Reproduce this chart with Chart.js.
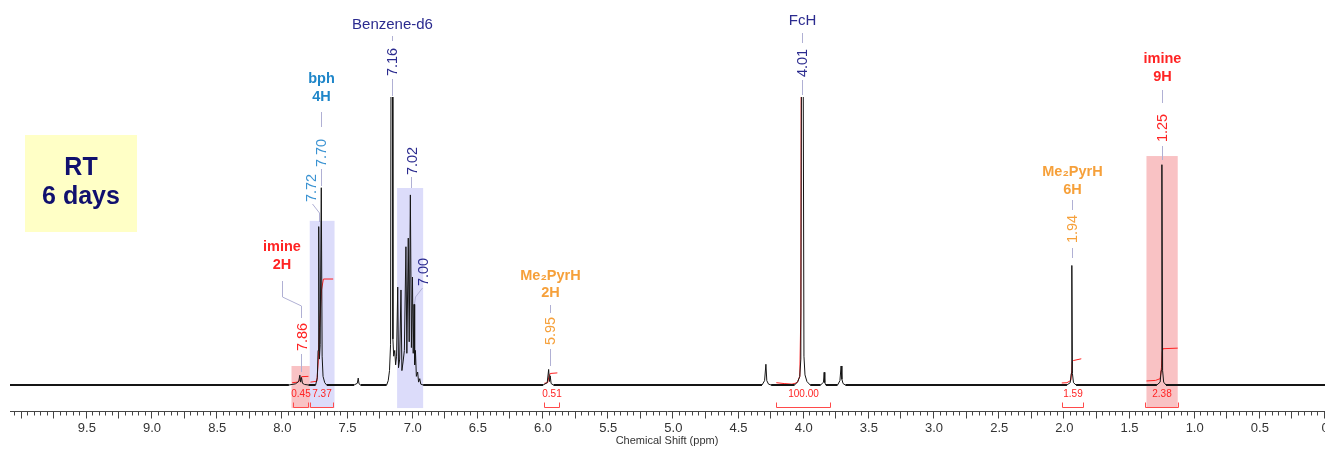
<!DOCTYPE html>
<html>
<head>
<meta charset="utf-8">
<script src="https://cdn.jsdelivr.net/npm/chart.js@4"></script>
<style>
html, body { margin: 0; padding: 0; background: #fff; }
#wrap { width: 1325px; height: 452px; position: relative; }
</style>
</head>
<body>
<div id="wrap"><canvas id="nmr"></canvas></div>
<script>
// 1H spectrum: [ppm, intensity], baseline = 0, 100 = top of the plot
const spectrum = [
    [10.09, 0], [7.95, 0],
    [7.90, 0.4], [7.875, 1.2], [7.866, 3.4], [7.860, 1.0], [7.853, 2.6], [7.846, 0.6], [7.83, 0.2], [7.80, 0],
    [7.745, 0], [7.732, 2.5], [7.726, 12], [7.721, 55], [7.716, 9], [7.710, 14], [7.7015, 68.5], [7.695, 10],
    [7.688, 3], [7.675, 0.8], [7.66, 0],
    [7.45, 0], [7.425, 0.6], [7.418, 2.4], [7.412, 0.4], [7.40, 0],
    [7.20, 0], [7.188, 1.5], [7.178, 5], [7.170, 14], [7.1655, 140], [7.1565, 140], [7.152, 16], [7.146, 10],
    [7.138, 12], [7.131, 7], [7.124, 10], [7.115, 34], [7.109, 6], [7.100, 9], [7.090, 33], [7.083, 5],
    [7.074, 8], [7.064, 12], [7.052, 48], [7.045, 11], [7.034, 51], [7.027, 15], [7.018, 66], [7.010, 13],
    [7.002, 37.5], [6.996, 11], [6.990, 28], [6.985, 7], [6.979, 12], [6.972, 3], [6.962, 4.5], [6.955, 1],
    [6.946, 2.2], [6.938, 0.3], [6.92, 0],
    [6.00, 0], [5.968, 0.8], [5.957, 5.4], [5.951, 1.2], [5.945, 3.2], [5.938, 0.5], [5.92, 0],
    [4.32, 0], [4.300, 1.5], [4.290, 7.2], [4.283, 1.5], [4.27, 0.3], [4.25, 0],
    [4.07, 0], [4.045, 1.2], [4.030, 3], [4.022, 9], [4.0155, 140], [4.0055, 140], [3.998, 10], [3.990, 3.5],
    [3.975, 1.2], [3.95, 0],
    [3.87, 0], [3.848, 1], [3.843, 4.4], [3.838, 0.8], [3.83, 0],
    [3.74, 0], [3.722, 1.5], [3.713, 6.6], [3.707, 2], [3.698, 0.5], [3.68, 0],
    [1.98, 0], [1.955, 0.8], [1.947, 4], [1.9425, 41.5], [1.938, 4], [1.930, 0.8], [1.91, 0],
    [1.29, 0], [1.265, 1], [1.257, 5], [1.2515, 76.5], [1.246, 5], [1.238, 1], [1.22, 0],
    [0, 0]
];

// integral curves (red)
const int786 = [[7.925, 0.8], [7.88, 1.0], [7.868, 1.6], [7.862, 2.4], [7.85, 2.9], [7.80, 3.0]];
const int770 = [[7.785, 1.0], [7.735, 1.3], [7.725, 8], [7.715, 20], [7.70, 33], [7.685, 36.8], [7.61, 36.8]];
const int595 = [[5.99, 0.6], [5.965, 0.8], [5.955, 2.8], [5.945, 4.0], [5.89, 4.2]];
const int401 = [[4.21, 0.8], [4.15, 0.5], [4.09, 0.3], [4.05, 0.8], [4.03, 3], [4.022, 25], [4.018, 140]];
const int194 = [[2.02, 0.7], [1.98, 0.8], [1.95, 1.6], [1.943, 5], [1.939, 8.2], [1.93, 8.5], [1.87, 9.1]];
const int125 = [[1.37, 1.4], [1.30, 1.6], [1.265, 2.2], [1.255, 6], [1.249, 11.5], [1.243, 12.6], [1.13, 12.8]];

// integration ranges under the baseline
const intStart = [7.92, 7.785, 5.99, 4.21, 2.02, 1.38];
const intEnd = [7.80, 7.61, 5.88, 3.80, 1.86, 1.13];
const intValues = ['0.45', '7.37', '0.51', '100.00', '1.59', '2.38'];

// highlighted regions
const boxFrom = [7.93, 7.79, 7.12, 1.37];
const boxTo = [7.79, 7.60, 6.92, 1.13];
const boxTop = [6.6, 57, 68.4, 79.5];
const boxGroup = ['imine', 'bph', 'solvent', 'imine'];

// peak picks and assignments
const peakShifts = ['7.86', '7.72', '7.70', '7.16', '7.02', '7.00', '5.95', '4.01', '1.94', '1.25'];
const groupNames = ['imine', 'bph', 'Benzene-d6', 'Me₂PyrH', 'FcH', 'Me₂PyrH', 'imine'];
const groupProtons = ['2H', '4H', '', '2H', '', '6H', '9H'];
const conditionLines = ['RT', '6 days'];

const tickLabels = ['9.5', '9.0', '8.5', '8.0', '7.5', '7.0', '6.5', '6.0', '5.5', '5.0',
    '4.5', '4.0', '3.5', '3.0', '2.5', '2.0', '1.5', '1.0', '0.5', '0'];
const axisTitle = 'Chemical Shift (ppm)';

const FONT = '"Liberation Sans", Arial, sans-serif';
const NAVY = '#2b2b8f', BLUE = '#1f86c9', LBLUE = '#3b93d2', RED = '#ff2424', ORANGE = '#f6a03a';
const LEAD = '#b0b0d4';

const toXY = arr => arr.map(p => ({ x: p[0], y: p[1] }));

const decor = {
    id: 'decor',
    beforeDatasetsDraw(chart) {
        const { ctx, scales: { x, y } } = chart;
        ctx.save();

        // RT / 6 days note
        ctx.fillStyle = '#ffffc6';
        ctx.fillRect(25, 135, 112, 97);
        ctx.fillStyle = '#10106e';
        ctx.font = 'bold 25px ' + FONT;
        ctx.textAlign = 'center';
        ctx.textBaseline = 'middle';
        ctx.fillText(conditionLines[0], 81, 168);
        ctx.fillText(conditionLines[1], 81, 197);

        // shaded regions
        boxFrom.forEach((f, i) => {
            ctx.fillStyle = boxGroup[i] === 'imine' ? 'rgba(240,110,115,0.42)' : 'rgba(140,140,240,0.30)';
            const l = x.getPixelForValue(f), r = x.getPixelForValue(boxTo[i]);
            const t = y.getPixelForValue(boxTop[i]), b = y.getPixelForValue(-8);
            ctx.fillRect(l, t, r - l, b - t);
        });

        // integration brackets
        ctx.strokeStyle = '#ff4a4a';
        ctx.lineWidth = 1;
        const yb = Math.round(y.getPixelForValue(-7.6)) + 0.5;
        const yt = Math.round(y.getPixelForValue(-5.9)) + 0.5;
        const yl = y.getPixelForValue(-3.1);
        ctx.font = '10px ' + FONT;
        ctx.fillStyle = RED;
        intStart.forEach((s, i) => {
            const l = Math.round(x.getPixelForValue(s)) + 0.5;
            const r = Math.round(x.getPixelForValue(intEnd[i])) + 0.5;
            ctx.beginPath();
            ctx.moveTo(l, yt); ctx.lineTo(l, yb); ctx.lineTo(r, yb); ctx.lineTo(r, yt);
            ctx.stroke();
            ctx.fillText(intValues[i], (l + r) / 2, yl);
        });
        ctx.restore();
    },
    afterDatasetsDraw(chart) {
        const { ctx, chartArea, scales: { x } } = chart;
        const X = v => Math.round(x.getPixelForValue(parseFloat(v))) + 0.5;
        ctx.save();
        ctx.textAlign = 'center';
        ctx.textBaseline = 'middle';
        const txt = (s, px, py, color, font) => {
            ctx.fillStyle = color; ctx.font = font; ctx.fillText(s, px, py);
        };
        const bold = (s, px, py, color) => txt(s, px, py, color, 'bold 14.5px ' + FONT);
        const vtxt = (s, px, py, color) => {
            ctx.save(); ctx.translate(px, py); ctx.rotate(-Math.PI / 2);
            txt(s, 0, 0, color, '14.5px ' + FONT); ctx.restore();
        };
        const lead = pts => {
            ctx.strokeStyle = LEAD; ctx.lineWidth = 1; ctx.beginPath();
            pts.forEach((p, i) => i ? ctx.lineTo(p[0], p[1]) : ctx.moveTo(p[0], p[1]));
            ctx.stroke();
        };
        const [p786, p772, p770, p716, p702, p700, p595, p401, p194, p125] = peakShifts;

        // imine 2H / 7.86
        bold(groupNames[0], 282, 247, RED); bold(groupProtons[0], 282, 265, RED);
        lead([[282.5, 281], [282.5, 297], [X(p786), 306], [X(p786), 318]]);
        vtxt(p786, X(p786) + 1, 337, RED);
        lead([[X(p786), 354], [X(p786), 372]]);

        // bph 4H / 7.70, 7.72
        bold(groupNames[1], X(p770), 79, BLUE); bold(groupProtons[1], X(p770), 97, BLUE);
        lead([[X(p770), 112], [X(p770), 127]]);
        vtxt(p770, X(p770), 153, LBLUE);
        lead([[X(p770), 169], [X(p770), 186]]);
        vtxt(p772, X(p772) - 8, 188, LBLUE);
        lead([[X(p772) - 7, 204], [X(p772), 213], [X(p772), 222]]);

        // Benzene-d6 / 7.16, 7.02, 7.00
        txt(groupNames[2], X(p716), 25, NAVY, '15px ' + FONT);
        lead([[X(p716), 36], [X(p716), 41]]);
        vtxt(p716, X(p716), 62, NAVY);
        lead([[X(p716), 79], [X(p716), 96]]);
        vtxt(p702, X(p702) + 2, 161, NAVY);
        lead([[X(p702) + 1, 177], [X(p702) + 1, 188]]);
        vtxt(p700, X(p700) + 10, 272, NAVY);
        lead([[X(p700) + 9, 288], [X(p700) + 2, 297], [X(p700) + 1, 304]]);

        // Me2PyrH 2H / 5.95
        bold(groupNames[3], X(p595), 276, ORANGE); bold(groupProtons[3], X(p595), 293, ORANGE);
        lead([[X(p595), 305], [X(p595), 313]]);
        vtxt(p595, X(p595), 331, ORANGE);
        lead([[X(p595), 349], [X(p595), 366]]);

        // FcH / 4.01
        txt(groupNames[4], X(p401), 21, NAVY, '15px ' + FONT);
        lead([[X(p401), 33], [X(p401), 43]]);
        vtxt(p401, X(p401), 63, NAVY);
        lead([[X(p401), 80], [X(p401), 95]]);

        // Me2PyrH 6H / 1.94
        bold(groupNames[5], X(p194), 172, ORANGE); bold(groupProtons[5], X(p194), 190, ORANGE);
        lead([[X(p194), 200], [X(p194), 210]]);
        vtxt(p194, X(p194), 229, ORANGE);
        lead([[X(p194), 248], [X(p194), 258]]);

        // imine 9H / 1.25
        bold(groupNames[6], X(p125), 59, RED); bold(groupProtons[6], X(p125), 77, RED);
        lead([[X(p125), 90], [X(p125), 103]]);
        vtxt(p125, X(p125), 128, RED);
        lead([[X(p125), 146], [X(p125), 160]]);

        // ppm axis
        const ay = chartArea.bottom - 0.5;
        ctx.strokeStyle = '#444';
        ctx.lineWidth = 1;
        ctx.beginPath();
        ctx.moveTo(chartArea.left, ay); ctx.lineTo(chartArea.right, ay);
        for (let i = 0; i * 0.05 <= x.max; i++) {
            const px = Math.round(x.getPixelForValue(i * 0.05)) - 0.5;
            ctx.moveTo(px, ay); ctx.lineTo(px, ay + (i % 5 === 0 ? 7 : 4));
        }
        ctx.stroke();
        tickLabels.forEach(s => txt(s, x.getPixelForValue(parseFloat(s)), 428, '#333', '13px ' + FONT));
        txt(axisTitle, 667, 441, '#333', '11px ' + FONT);
        ctx.restore();
    }
};

const redLine = data => ({
    data: toXY(data), borderColor: '#ff2020', borderWidth: 1, pointRadius: 0, tension: 0, clip: 0
});

new Chart(document.getElementById('nmr'), {
    type: 'line',
    data: {
        datasets: [
            {
                data: toXY(spectrum),
                borderColor: '#151515',
                borderWidth: 1,
                pointRadius: 0,
                tension: 0,
                clip: 0,
                segment: {
                    borderWidth: c => (c.p0.parsed.y === 0 && c.p1.parsed.y === 0) ? 2 : 1
                }
            },
            redLine(int786), redLine(int770), redLine(int595),
            redLine(int401), redLine(int194), redLine(int125)
        ]
    },
    options: {
        responsive: true,
        maintainAspectRatio: false,
        animation: false,
        events: [],
        layout: { padding: { left: 10, right: 0, top: 97, bottom: 40 } },
        plugins: { legend: { display: false }, tooltip: { enabled: false } },
        scales: {
            x: { type: 'linear', reverse: true, min: 0, max: 10.09, display: false },
            y: { min: -9.375, max: 100, display: false }
        }
    },
    plugins: [decor]
});
</script>
</body>
</html>
